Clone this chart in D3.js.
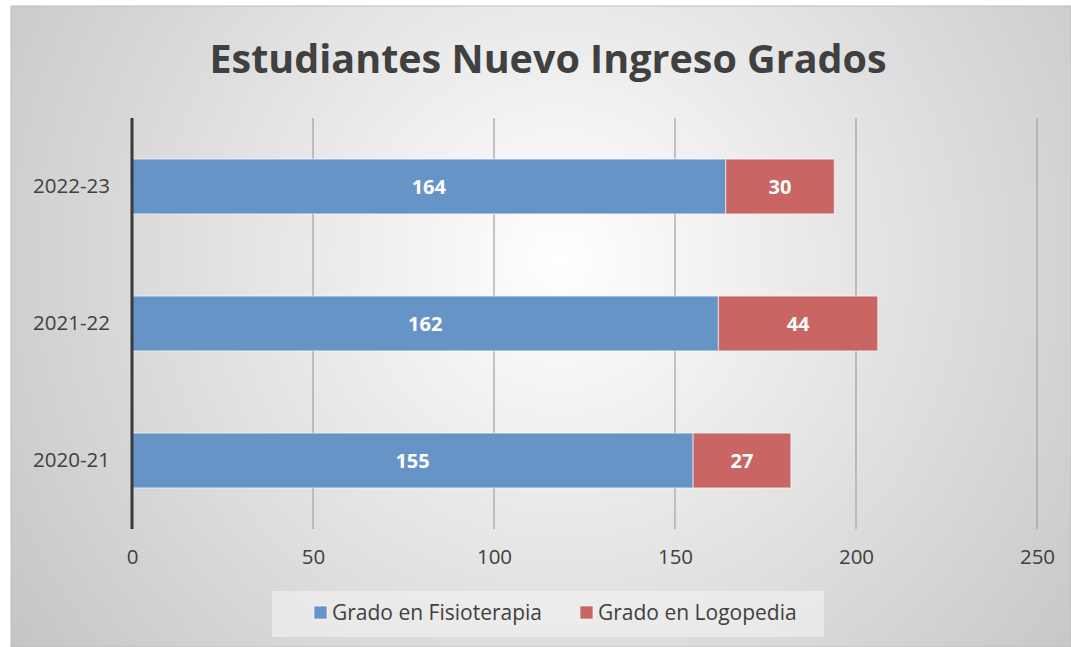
<!DOCTYPE html>
<html><head><meta charset="utf-8">
<script src="https://cdn.jsdelivr.net/npm/d3@7"></script>
<style>body{margin:0;background:#fff}svg{display:block}</style>
</head><body><svg id="c" width="1071" height="647"></svg>
<script>
const categories = ["2022-23", "2021-22", "2020-21"];
const fisioterapia = [164, 162, 155];
const logopedia = [30, 44, 27];
const seriesNames = ["Grado en Fisioterapia", "Grado en Logopedia"];
const xTicks = [0, 50, 100, 150, 200, 250];
const title = "Estudiantes Nuevo Ingreso Grados";

const colors = ["#6794c7", "#c96563"];
const svg = d3.select("#c");
const defs = svg.append("defs");
const rg = defs.append("radialGradient").attr("id","bg").attr("gradientUnits","userSpaceOnUse")
  .attr("cx",560).attr("cy",260).attr("r",660);
rg.append("stop").attr("offset","0").attr("stop-color","#ffffff");
rg.append("stop").attr("offset","1").attr("stop-color","#c6c6c6");
svg.append("rect").attr("x",11).attr("y",6).attr("width",1060).attr("height",641)
  .attr("fill","url(#bg)").attr("stroke","#bdbdbd").attr("stroke-width",1);

svg.append("text").attr("x",548).attr("y",73).attr("text-anchor","middle")
  .attr("font-family","'Open Sans', sans-serif").attr("font-weight","bold")
  .attr("font-size",39.5).attr("fill","#404040").text(title);

const x = d3.scaleLinear().domain([0,250]).range([132,1037]);
const y = d3.scaleBand().domain(categories).range([118,529]).paddingInner(0.6).paddingOuter(0.3);

// gridlines
svg.append("g").selectAll("line").data(xTicks.filter(d=>d>0)).join("line")
  .attr("x1",d=>x(d)).attr("x2",d=>x(d)).attr("y1",118).attr("y2",529)
  .attr("stroke","#a6a6a6").attr("stroke-width",1.3);

const rows = categories.map((c,i)=>({c, a:fisioterapia[i], b:logopedia[i]}));
const g = svg.append("g");
rows.forEach(r=>{
  const segs = [{s:0,v:r.a,col:colors[0]},{s:r.a,v:r.b,col:colors[1]}];
  segs.forEach(s=>{
    g.append("rect").attr("x",x(s.s)).attr("y",y(r.c)).attr("width",x(s.s+s.v)-x(s.s))
      .attr("height",y.bandwidth()).attr("fill",s.col).attr("stroke","rgba(255,255,255,0.5)").attr("stroke-width",1.2);
    g.append("text").attr("x",(x(s.s)+x(s.s+s.v))/2).attr("y",y(r.c)+y.bandwidth()/2)
      .attr("dy","0.35em").attr("text-anchor","middle").attr("fill","#fff")
      .attr("font-family","'Open Sans', sans-serif").attr("font-weight","bold").attr("font-size",20)
      .text(s.v);
  });
});

// axis line
svg.append("line").attr("x1",132).attr("x2",132).attr("y1",118).attr("y2",529)
  .attr("stroke","#3a3a3a").attr("stroke-width",3);

// x tick labels
const xa = svg.append("g").attr("transform","translate(0,529)")
  .call(d3.axisBottom(x).tickValues(xTicks).tickSize(0).tickPadding(20));
xa.select(".domain").remove();
xa.selectAll("text").attr("font-family","'Open Sans', sans-serif").attr("font-size",20.5).attr("fill","#404040");

// y labels
const ya = svg.append("g").attr("transform","translate(132,0)")
  .call(d3.axisLeft(y).tickSize(0).tickPadding(22));
ya.select(".domain").remove();
ya.selectAll("text").attr("font-family","'Open Sans', sans-serif").attr("font-size",20.5).attr("fill","#404040");

// legend
svg.append("rect").attr("x",272).attr("y",591).attr("width",552).attr("height",46).attr("fill","#f4f4f4").attr("opacity",0.6);
const lx = [314, 580];
seriesNames.forEach((n,i)=>{
  svg.append("rect").attr("x",lx[i]).attr("y",606).attr("width",13).attr("height",13)
    .attr("fill",colors[i]).attr("stroke","rgba(255,255,255,0.6)");
  svg.append("text").attr("x",lx[i]+18).attr("y",613).attr("dy","0.35em")
    .attr("font-family","'Open Sans', sans-serif").attr("font-size",21).attr("fill","#404040").text(n);
});
</script></body></html>
